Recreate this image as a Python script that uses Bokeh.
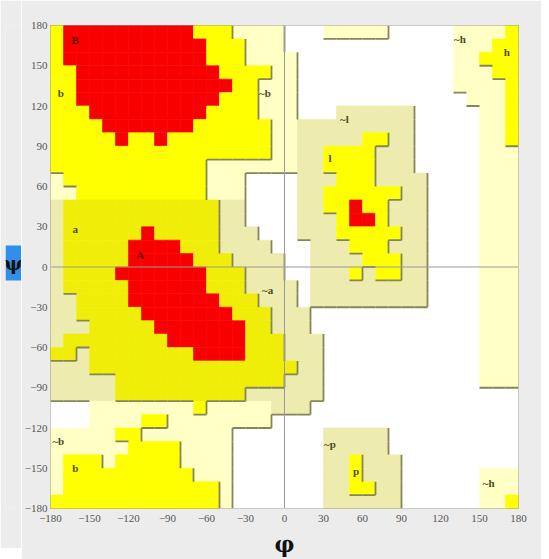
from bokeh.plotting import figure
from bokeh.layouts import row
from bokeh.models import Range1d, FixedTicker, Span, ColumnDataSource
from bokeh.embed import file_html
from bokeh.resources import INLINE
from bokeh.core.properties import value

PHI_TICKS = [-180, -150, -120, -90, -60, -30, 0, 30, 60, 90, 120, 150, 180]
PSI_TICKS = [-180, -150, -120, -90, -60, -30, 0, 30, 60, 90, 120, 150, 180]
CELL = 10  # degrees per grid cell

# Ramachandran region grid: first row is psi 170..180, each row as run lengths from phi = -180
# W disallowed, C generously allowed, K generously allowed (shaded), Y allowed, D allowed (shaded), R core
REGION_ROWS = [
    "Y1 R10 Y3 C4 W3 C5 W5 C4 Y1",
    "Y1 R11 Y3 C3 W13 C3 Y2",
    "Y1 R11 Y3 C4 W12 C2 Y3",
    "Y2 R11 Y4 C2 W12 C3 Y2",
    "Y2 R12 Y2 C3 W12 C4 Y1",
    "Y2 R11 Y3 C3 W13 C3 Y1",
    "Y3 R9 Y4 C3 W3 K6 W5 C2 Y1",
    "Y4 R7 Y6 C2 K9 W5 C2 Y1",
    "Y5 R1 Y2 R1 Y8 C2 K5 Y2 K2 W5 C2 Y1",
    "Y17 C2 K2 Y4 K3 W5 C3",
    "Y12 C7 K2 Y4 K3 W5 C3",
    "C1 Y11 C3 W4 K3 Y3 K4 W4 C3",
    "C2 Y10 C3 W4 K2 Y6 K2 W4 C3",
    "K1 D12 K2 W4 K2 Y2 R1 Y2 K3 W4 C3",
    "K1 D12 K2 W4 K3 Y1 R2 Y1 K3 W4 C3",
    "K1 D6 R1 D5 K3 W3 K3 Y5 K2 W4 C3",
    "K1 D5 R4 D3 K4 W3 K3 Y3 K3 W4 C3",
    "K1 D5 R5 D3 K4 W2 K4 Y3 K2 W4 C3",
    "K1 D4 R7 D3 K3 W2 K3 Y1 K1 Y2 K2 W4 C3",
    "K1 D5 R6 D3 K4 W1 K9 W4 C3",
    "K2 D4 R7 D3 K3 W1 K9 W4 C3",
    "K2 D5 R7 D3 K3 W13 C3",
    "K3 D5 R7 D2 K3 W13 C3",
    "K1 D8 R6 D3 K3 W12 C3",
    "D2 K1 D8 R4 D3 K3 W12 C3",
    "K3 D16 K2 W12 C3",
    "K5 D13 K3 W12 C3",
    "K5 D10 K6 W15",
    "W3 C8 Y1 C5 K3 W16",
    "W3 C4 Y2 C8 W19",
    "C5 Y2 C7 W7 K5 W10",
    "C6 Y4 C4 W7 K5 W10",
    "C1 Y3 C1 Y5 C4 W7 K2 Y1 K3 W9",
    "C1 Y10 C3 W7 K2 Y1 K3 W6 C3",
    "C1 Y12 C1 W7 K2 Y2 K2 W6 C3",
    "Y13 C1 W7 K6 W6 C2 Y1",
]

LABEL_TEXT = ["B", "b", "a", "A", "~b", "~a", "~l", "l", "~h", "h", "~b", "b", "~p", "p", "~h"]
LABEL_PHI = [-161, -172, -161, -111, -15, -13, 46, 35, 135, 171, -174, -161, 35, 55, 157]
LABEL_PSI = [169, 130, 28, 9, 130, -17, 110, 81, 170, 160, -130, -150, -132, -152, -161]

# psi axis title box, spanning these psi values beside the axis
PSI_TITLE = "ψ"
PSI_TITLE_SPAN = [-10, 16]

COLORS = {"W": "#FFFFFF", "C": "#FFFFC6", "K": "#EEEBAF", "Y": "#FFFF00", "D": "#F0EE08", "R": "#F80000"}
LEVEL = {"W": 0, "C": 1, "K": 1, "Y": 2, "D": 2, "R": 3}
BG = "#ECECEC"


def parse(r):
    out = []
    for tok in r.split():
        out.extend([tok[0]] * int(tok[1:]))
    if len(out) != 36:
        raise ValueError("bad row %r (%d)" % (r, len(out)))
    return out


grid = [parse(r) for r in REGION_ROWS]
NC = len(grid[0])
NR = len(grid)

left, right, top, bottom, fill = [], [], [], [], []
for j, cells in enumerate(grid):
    for i, code in enumerate(cells):
        left.append(-180 + CELL * i)
        right.append(-180 + CELL * (i + 1))
        top.append(180 - CELL * j)
        bottom.append(180 - CELL * (j + 1))
        fill.append(COLORS[code])

# region edge lines where level drops going right or down
sx0, sy0, sx1, sy1 = [], [], [], []
for j in range(NR):
    for i in range(NC - 1):
        a, b = LEVEL[grid[j][i]], LEVEL[grid[j][i + 1]]
        if a > b and a < 3:
            x = -180 + CELL * (i + 1)
            sx0.append(x); sx1.append(x)
            sy0.append(180 - CELL * j); sy1.append(180 - CELL * (j + 1))
for j in range(NR - 1):
    for i in range(NC):
        a, b = LEVEL[grid[j][i]], LEVEL[grid[j + 1][i]]
        if a > b and a < 3:
            y = 180 - CELL * (j + 1)
            sy0.append(y); sy1.append(y)
            sx0.append(-180 + CELL * i); sx1.append(-180 + CELL * (i + 1))

p = figure(
    frame_width=468, frame_height=483,
    x_range=Range1d(-180, 180), y_range=Range1d(-180, 180),
    output_backend="svg", toolbar_location=None,
    min_border_left=26, min_border_top=25, min_border_right=23, min_border_bottom=40,
)
p.background_fill_color = "#FFFFFF"
p.border_fill_color = BG
p.outline_line_color = "#9a9a9a"
p.grid.visible = False

src = ColumnDataSource(dict(left=left, right=right, top=top, bottom=bottom, fill=fill))
p.quad(left="left", right="right", top="top", bottom="bottom", source=src,
       fill_color="fill", line_color="fill", line_width=0.6)

p.segment(x0=sx0, y0=sy0, x1=sx1, y1=sy1, line_color="#85855a", line_width=1.8)

p.add_layout(Span(location=0, dimension="height", line_color="#9a9a9a", line_width=1))
p.add_layout(Span(location=0, dimension="width", line_color="#9a9a9a", line_width=1))

lab_colors = ["#6b1010" if t in ("A", "B") else "#4b4b25" for t in LABEL_TEXT]
p.text(x=LABEL_PHI, y=LABEL_PSI, text=LABEL_TEXT, text_color=lab_colors,
       text_font=value("Liberation Serif"), text_font_size="11px", text_font_style="bold",
       text_align="center", text_baseline="middle")

for ax, ticks in ((p.xaxis, PHI_TICKS), (p.yaxis, PSI_TICKS)):
    ax.ticker = FixedTicker(ticks=ticks)
    ax.major_label_text_font = "Liberation Serif"
    ax.major_label_text_font_size = "11px"
    ax.major_label_text_color = "#555555"
    ax.major_tick_line_color = None
    ax.minor_tick_line_color = None
    ax.major_tick_out = 0
    ax.major_tick_in = 0
    ax.axis_line_color = None
    ax.major_label_standoff = 3

p.xaxis.major_label_standoff = 6
p.xaxis.axis_label = "φ"
p.xaxis.axis_label_standoff = 6
p.xaxis.axis_label_text_font = "DejaVu Serif"
p.xaxis.axis_label_text_font_size = "22px"
p.xaxis.axis_label_text_font_style = "bold"
p.xaxis.axis_label_text_color = "#111111"

# narrow strip left of the tick labels holding the blue psi title box;
# its frame shares the main plot's psi scale
q = figure(
    frame_width=16, frame_height=483,
    x_range=Range1d(0, 1), y_range=Range1d(-180, 180),
    output_backend="svg", toolbar_location=None,
    min_border_left=5, min_border_right=0, min_border_top=25, min_border_bottom=40,
)
q.axis.visible = False
q.grid.visible = False
q.outline_line_color = None
q.background_fill_color = BG
q.border_fill_color = BG
q.quad(left=[0], right=[1], bottom=[PSI_TITLE_SPAN[0]], top=[PSI_TITLE_SPAN[1]],
       fill_color="#2F8FEA", line_color=None)
q.text(x=[0.5], y=[sum(PSI_TITLE_SPAN) / 2], text=[PSI_TITLE], text_color="#111111",
       text_font=value("DejaVu Serif"), text_font_size="19px", text_font_style="bold",
       text_align="center", text_baseline="middle")

layout = row(q, p)
open("out.html", "w").write(file_html(layout, INLINE))
